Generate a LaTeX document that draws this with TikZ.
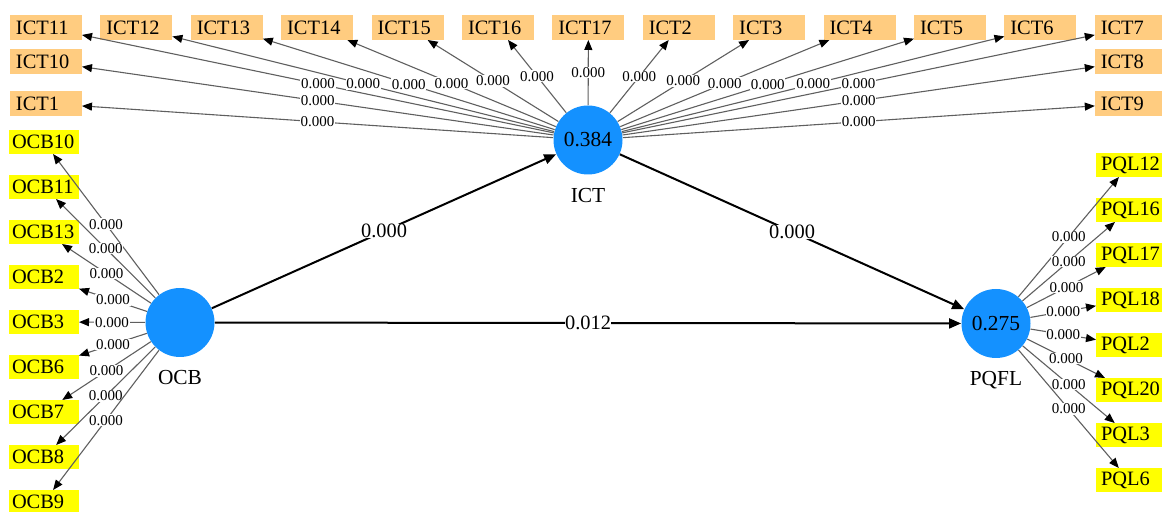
\documentclass[tikz,border=0pt]{standalone}
\usepackage{fontspec}
\setmainfont{Liberation Serif}
\usetikzlibrary {positioning,
                 arrows.meta}
\definecolor{lvblue}{RGB}{20,145,255}
\definecolor{ictorange}{RGB}{255,204,128}
\definecolor{ocbyellow}{RGB}{255,255,0}
\definecolor{loadgray}{RGB}{95,95,95}

\begin{document}
\begin{tikzpicture}[x=0.5pt, y=-0.5pt,
    latent/.style={circle, fill=lvblue, minimum size=34.5pt, inner sep=0pt,
                   font=\fontsize{10.7pt}{12pt}\selectfont},
    lvname/.style={font=\fontsize{10.7pt}{12pt}\selectfont},
    ictbox/.style={fill=ictorange, text width=30pt, align=left, inner xsep=3pt,
                   inner ysep=0pt, minimum height=12.5pt, outer sep=0pt,
                   font=\fontsize{10.2pt}{12pt}\selectfont},
    ocbbox/.style={fill=ocbyellow, text width=32pt, align=left, inner xsep=1.5pt,
                   inner ysep=0pt, minimum height=12pt, outer sep=0pt,
                   font=\fontsize{10.2pt}{12pt}\selectfont},
    pqlbox/.style={fill=ocbyellow, text width=28pt, align=left, inner xsep=2.5pt,
                   inner ysep=0pt, minimum height=12pt, outer sep=0pt,
                   font=\fontsize{10.2pt}{12pt}\selectfont},
    loading/.style={draw=loadgray, line width=0.55pt,
                    -{Triangle[length=5pt, width=4pt, color=black]}},
    strukt/.style={draw=black, line width=1pt, -{Triangle[length=6pt, width=5pt]}},
    ldlabel/.style={fill=white, inner sep=0.4pt, font=\fontsize{7.5pt}{8pt}\selectfont},
    pathlabel/.style={fill=white, inner sep=0pt, font=\fontsize{10.2pt}{12pt}\selectfont}]
    \useasboundingbox (0,0) rectangle (1162,512);

    % latente Variablen
    \node[latent] (ict) at (588,140) {0.384};
    \node[lvname, below=3pt of ict] (ict_text) {ICT};
    \node[latent] (ocb) at (180,322.5) {};
    \node[lvname, below=3pt of ocb] (ocb_text) {OCB};
    \node[latent] (pqfl) at (996,323.5) {0.275};
    \node[lvname, below=3pt of pqfl] (pqfl_text) {PQFL};

    % Indikatoren ICT
    \node[ictbox] (ict11) at (46,27.5) {ICT11};
    \node[ictbox, right=9.2pt of ict11] (ict12) {ICT12};
    \node[ictbox, right=9.2pt of ict12] (ict13) {ICT13};
    \node[ictbox, right=9.2pt of ict13] (ict14) {ICT14};
    \node[ictbox, right=9.2pt of ict14] (ict15) {ICT15};
    \node[ictbox, right=9.2pt of ict15] (ict16) {ICT16};
    \node[ictbox, right=9.2pt of ict16] (ict17) {ICT17};
    \node[ictbox, right=9.2pt of ict17] (ict2) {ICT2};
    \node[ictbox, right=9.2pt of ict2] (ict3) {ICT3};
    \node[ictbox, right=9.2pt of ict3] (ict4) {ICT4};
    \node[ictbox, right=9.2pt of ict4] (ict5) {ICT5};
    \node[ictbox, right=9.2pt of ict5] (ict6) {ICT6};
    \node[ictbox, right=9.2pt of ict6] (ict7) {ICT7};
    \node[ictbox, below=4.5pt of ict11] (ict10) {ICT10};
    \node[ictbox, below=8.5pt of ict10] (ict1) {ICT1};
    \node[ictbox, below=4.5pt of ict7] (ict8) {ICT8};
    \node[ictbox, below=8.5pt of ict8] (ict9) {ICT9};

    % Indikatoren OCB
    \node[ocbbox] (ocb10) at (44,142) {OCB10};
    \node[ocbbox, below=10.5pt of ocb10] (ocb11) {OCB11};
    \node[ocbbox, below=10.5pt of ocb11] (ocb13) {OCB13};
    \node[ocbbox, below=10.5pt of ocb13] (ocb2) {OCB2};
    \node[ocbbox, below=10.5pt of ocb2] (ocb3) {OCB3};
    \node[ocbbox, below=10.5pt of ocb3] (ocb6) {OCB6};
    \node[ocbbox, below=10.5pt of ocb6] (ocb7) {OCB7};
    \node[ocbbox, below=10.5pt of ocb7] (ocb8) {OCB8};
    \node[ocbbox, below=10.5pt of ocb8] (ocb9) {OCB9};

    % Indikatoren PQFL
    \node[pqlbox] (pql12) at (1129,165) {PQL12};
    \node[pqlbox, below=10.5pt of pql12] (pql16) {PQL16};
    \node[pqlbox, below=10.5pt of pql16] (pql17) {PQL17};
    \node[pqlbox, below=10.5pt of pql17] (pql18) {PQL18};
    \node[pqlbox, below=10.5pt of pql18] (pql2) {PQL2};
    \node[pqlbox, below=10.5pt of pql2] (pql20) {PQL20};
    \node[pqlbox, below=10.5pt of pql20] (pql3) {PQL3};
    \node[pqlbox, below=10.5pt of pql3] (pql6) {PQL6};

    % Ladungen ICT
    \draw[loading] (ict) -- node[ldlabel] {0.000} (ict11);
    \draw[loading] (ict) -- node[ldlabel] {0.000} (ict12);
    \draw[loading] (ict) -- node[ldlabel] {0.000} (ict13);
    \draw[loading] (ict) -- node[ldlabel] {0.000} (ict14);
    \draw[loading] (ict) -- node[ldlabel] {0.000} (ict15);
    \draw[loading] (ict) -- node[ldlabel] {0.000} (ict16);
    \draw[loading] (ict) -- node[ldlabel] {0.000} (ict17);
    \draw[loading] (ict) -- node[ldlabel] {0.000} (ict2);
    \draw[loading] (ict) -- node[ldlabel] {0.000} (ict3);
    \draw[loading] (ict) -- node[ldlabel] {0.000} (ict4);
    \draw[loading] (ict) -- node[ldlabel] {0.000} (ict5);
    \draw[loading] (ict) -- node[ldlabel] {0.000} (ict6);
    \draw[loading] (ict) -- node[ldlabel] {0.000} (ict7);
    \draw[loading] (ict) -- node[ldlabel] {0.000} (ict10);
    \draw[loading] (ict) -- node[ldlabel] {0.000} (ict1);
    \draw[loading] (ict) -- node[ldlabel] {0.000} (ict8);
    \draw[loading] (ict) -- node[ldlabel] {0.000} (ict9);

    % Ladungen OCB
    \draw[loading] (ocb) -- node[ldlabel] {0.000} (ocb10);
    \draw[loading] (ocb) -- node[ldlabel] {0.000} (ocb11);
    \draw[loading] (ocb) -- node[ldlabel] {0.000} (ocb13);
    \draw[loading] (ocb) -- node[ldlabel] {0.000} (ocb2);
    \draw[loading] (ocb) -- node[ldlabel] {0.000} (ocb3);
    \draw[loading] (ocb) -- node[ldlabel] {0.000} (ocb6);
    \draw[loading] (ocb) -- node[ldlabel] {0.000} (ocb7);
    \draw[loading] (ocb) -- node[ldlabel] {0.000} (ocb8);
    \draw[loading] (ocb) -- node[ldlabel] {0.000} (ocb9);

    % Ladungen PQFL
    \draw[loading] (pqfl) -- node[ldlabel] {0.000} (pql12);
    \draw[loading] (pqfl) -- node[ldlabel] {0.000} (pql16);
    \draw[loading] (pqfl) -- node[ldlabel] {0.000} (pql17);
    \draw[loading] (pqfl) -- node[ldlabel] {0.000} (pql18);
    \draw[loading] (pqfl) -- node[ldlabel] {0.000} (pql2);
    \draw[loading] (pqfl) -- node[ldlabel] {0.000} (pql20);
    \draw[loading] (pqfl) -- node[ldlabel] {0.000} (pql3);
    \draw[loading] (pqfl) -- node[ldlabel] {0.000} (pql6);

    % Strukturmodell
    \draw[strukt] (ocb) -- node[pathlabel] {0.000} (ict);
    \draw[strukt] (ict) -- node[pathlabel] {0.000} (pqfl);
    \draw[strukt] (ocb) -- node[pathlabel] {0.012} (pqfl);

\end{tikzpicture}
\end{document}
